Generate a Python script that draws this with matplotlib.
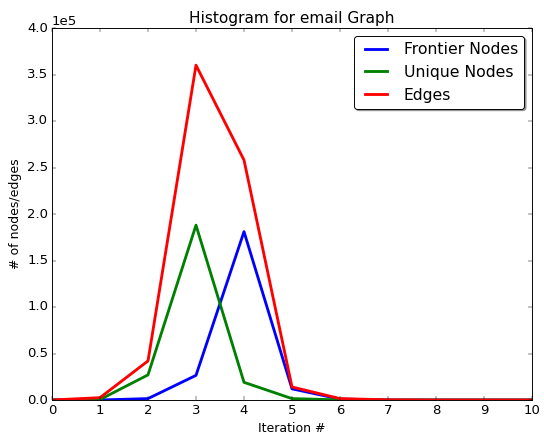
import numpy as np
import matplotlib
matplotlib.use('Agg')
import matplotlib.pyplot as plt

plt.style.use('classic')

iterations = list(range(11))
frontier_nodes = [0, 0, 1500, 26500, 181000, 12000, 1000, 0, 0, 0, 0]
unique_nodes = [0, 500, 27000, 188000, 19000, 1500, 100, 0, 0, 0, 0]
edges = [0, 2500, 42000, 360000, 258000, 14000, 1500, 200, 0, 0, 0]

fig = plt.figure(figsize=(8, 437 / 68), dpi=68)
fig.patch.set_facecolor('white')
ax = fig.add_axes([52 / 544, 37 / 437, 480 / 544, 372 / 437])

ax.plot(iterations, frontier_nodes, color='b', lw=3, label='Frontier Nodes')
ax.plot(iterations, unique_nodes, color='g', lw=3, label='Unique Nodes')
ax.plot(iterations, edges, color='r', lw=3, label='Edges')

ax.set_xlim(0, 10)
ax.set_ylim(0, 400000)
ax.set_xticks(range(11))
ax.ticklabel_format(axis='y', style='sci', scilimits=(0, 0))
ax.tick_params(labelsize=14)
ax.yaxis.get_offset_text().set_fontsize(14)
ax.set_xlabel('Iteration #', fontsize=13.2)
ax.set_ylabel('# of nodes/edges', fontsize=13.2)
ax.set_title('Histogram for email Graph', fontsize=16.3)
ax.legend(loc='upper right', shadow=True, fancybox=True, fontsize=16.5)

fig.savefig('out.png', dpi=68)
